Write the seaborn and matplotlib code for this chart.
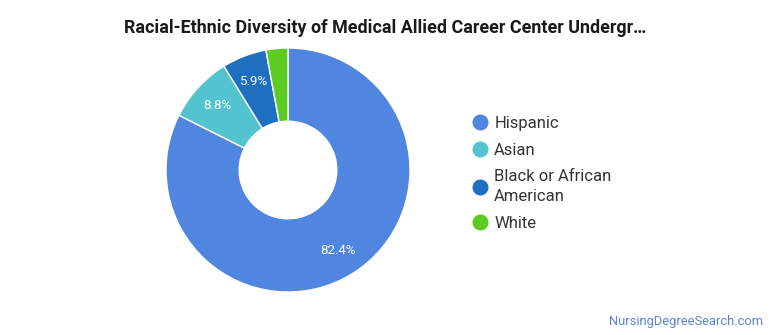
import matplotlib
matplotlib.use("Agg")
import matplotlib.pyplot as plt
import seaborn as sns
import numpy as np
from matplotlib.lines import Line2D

categories = ["Hispanic", "Asian", "Black or African\nAmerican", "White"]
values = [82.4, 8.8, 5.9, 2.9]
pct_labels = ["82.4%", "8.8%", "5.9%", ""]
colors = ["#5085e0", "#52c3cf", "#1e70bf", "#5ccb22"]
title = "Racial-Ethnic Diversity of Medical Allied Career Center Undergr\u2026"
watermark = "NursingDegreeSearch.com"

sns.set_theme(style="white")
plt.rcParams["font.family"] = ["Roboto", "DejaVu Sans"]

W, H = 770, 335
fig = plt.figure(figsize=(W / 100, H / 100), dpi=100)
fig.patch.set_facecolor("white")

cx, cy, R = 288, 170, 122
ax = fig.add_axes([(cx - R) / W, (H - cy - R) / H, 2 * R / W, 2 * R / H])
pal = sns.color_palette(colors)
wedges, _ = ax.pie(values, colors=pal, startangle=90, counterclock=False,
                   radius=1.0, wedgeprops=dict(width=0.6, edgecolor="white", linewidth=1))
cum = 0
for v, lab in zip(values, pct_labels):
    mid = 90 - (cum + v / 2) / sum(values) * 360
    cum += v
    if lab:
        r = 0.78
        ax.text(r * np.cos(np.radians(mid)), r * np.sin(np.radians(mid)), lab,
                ha="center", va="center", color="white", fontsize=9.5)
ax.set_xlim(-1, 1)
ax.set_ylim(-1, 1)
ax.set_aspect("equal")
ax.axis("off")

fig.text(385 / W, 1 - 28 / H, title, ha="center", va="center",
         fontsize=12.9, fontweight="bold", color="#1a1a1a")

handles = [Line2D([0], [0], marker="o", linestyle="", markersize=10.5,
                  markerfacecolor=c, markeredgecolor=c) for c in colors]
leg = fig.legend(handles, categories, loc="upper left",
                 bbox_to_anchor=(455 / W, 1 - 101 / H), frameon=False,
                 fontsize=12, handletextpad=0.25, labelspacing=0.7,
                 handlelength=1.2, labelcolor="#333333")
for t in leg.get_texts():
    t.set_linespacing(1.4)

fig.text(763 / W, 1 - 321 / H, watermark, ha="right", va="center",
         fontsize=9.3, color="#5b82d6")

fig.savefig("out.png", dpi=100, facecolor="white")
